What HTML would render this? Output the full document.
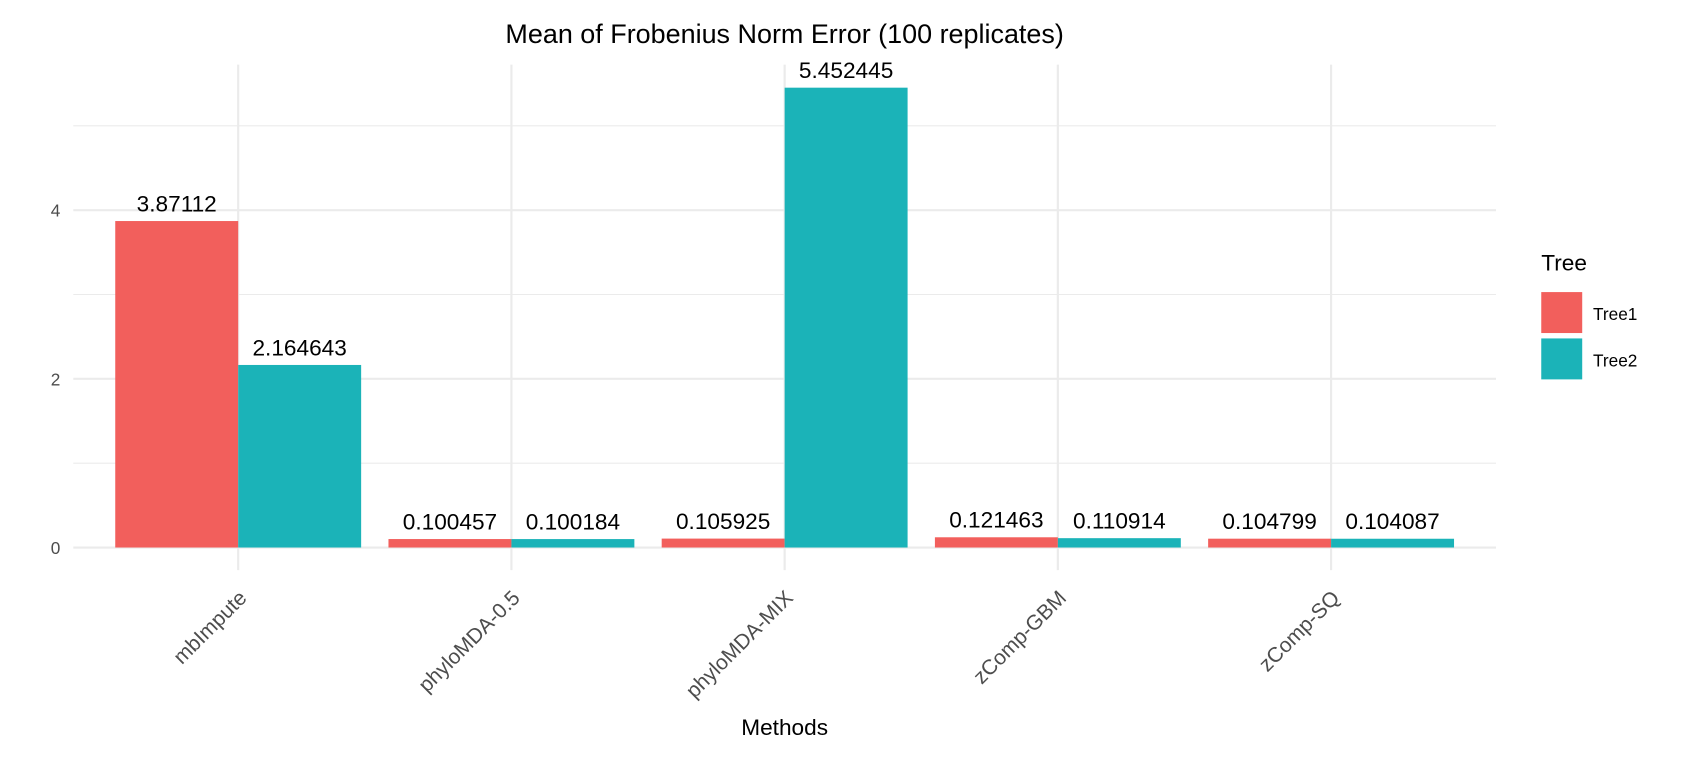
<!DOCTYPE html>
<html><head><meta charset="utf-8"><style>
body{margin:0;background:#fff;font-family:"Liberation Sans",Arial,sans-serif;overflow:hidden}
svg text{font-family:"Liberation Sans",Arial,sans-serif}
</style></head><body>
<svg id="c" width="1690" height="760" xmlns="http://www.w3.org/2000/svg">
<g transform="scale(1.0778)">
<text x="728" y="40" font-size="25" text-anchor="middle" fill="#000">Mean of Frobenius Norm Error (100 replicates)</text>
<g id="grid"></g><g id="bars"></g><g id="labels"></g><g id="axes"></g>
<text x="728" y="682" font-size="21" text-anchor="middle" fill="#000">Methods</text>
<g>
<text x="1430" y="251" font-size="21" fill="#000">Tree</text>
<rect x="1430" y="271" width="38" height="38" fill="#F25F5C"/>
<text x="1478" y="297" font-size="16" fill="#000">Tree1</text>
<rect x="1430" y="314" width="38" height="38" fill="#1BB3B8"/>
<text x="1478" y="340" font-size="16" fill="#000">Tree2</text>
</g>
</g>
</svg>
<script>
const categories=["mbImpute","phyloMDA-0.5","phyloMDA-MIX","zComp-GBM","zComp-SQ"];
const tree1=[3.87112,0.100457,0.105925,0.121463,0.104799];
const tree2=[2.164643,0.100184,5.452445,0.110914,0.104087];
const tree1Labels=["3.87112","0.100457","0.105925","0.121463","0.104799"];
const tree2Labels=["2.164643","0.100184","5.452445","0.110914","0.104087"];
const yTicks=[0,2,4];
const yMinor=[1,3,5];
const NS="http://www.w3.org/2000/svg";
const px0=68,px1=1388,py0=60,py1=529;
const y=v=>508-v*78.25;
const step=253.5;
const xc=i=>221+step*i;
const bw=step*0.9/2;
function mk(t,a,p){const e=document.createElementNS(NS,t);for(const k in a)e.setAttribute(k,a[k]);document.getElementById(p).appendChild(e);return e;}
yMinor.forEach(v=>{const l=mk('line',{x1:px0,x2:px1,y1:y(v),y2:y(v),stroke:'#ebebeb','stroke-width':1},'grid');

});
yTicks.forEach(v=>{const l=mk('line',{x1:px0,x2:px1,y1:y(v),y2:y(v),stroke:'#ebebeb','stroke-width':2},'grid');


const t=mk('text',{x:56,y:y(v)+6,'font-size':16,'text-anchor':'end',fill:'#4d4d4d'},'axes');t.textContent=v;

});
categories.forEach((c,i)=>{const l=mk('line',{x1:xc(i),x2:xc(i),y1:py0,y2:py1,stroke:'#ebebeb','stroke-width':2},'grid');


const b1=mk('rect',{x:xc(i)-bw,y:y(tree1[i]),width:bw,height:508-y(tree1[i]),fill:'#F25F5C'},'bars');


const b2=mk('rect',{x:xc(i),y:y(tree2[i]),width:bw,height:508-y(tree2[i]),fill:'#1BB3B8'},'bars');


const t1=mk('text',{x:xc(i)-bw/2,y:y(tree1[i])-9,'font-size':21,'text-anchor':'middle',fill:'#000'},'labels');t1.textContent=tree1Labels[i];


const t2=mk('text',{x:xc(i)+bw/2,y:y(tree2[i])-9,'font-size':21,'text-anchor':'middle',fill:'#000'},'labels');t2.textContent=tree2Labels[i];


const tx=xc(i)+9,ty=556;
const xt=mk('text',{x:tx,y:ty,'font-size':19.5,'text-anchor':'end',fill:'#4d4d4d',transform:`rotate(-45 ${tx} ${ty})`},'axes');xt.textContent=c;

});
</script>
</body></html>
